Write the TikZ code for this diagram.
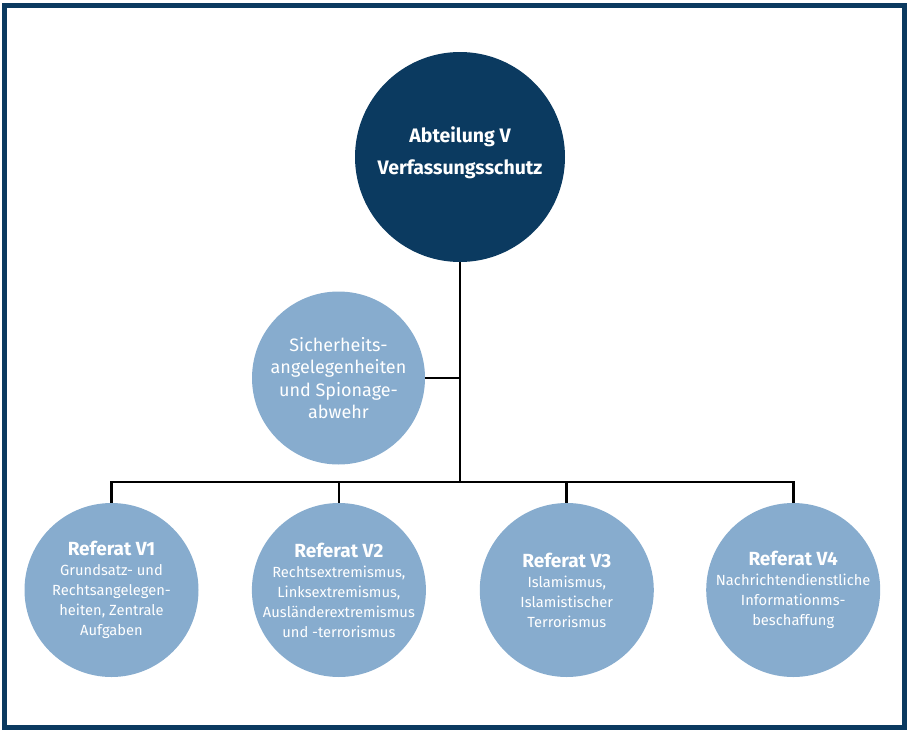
\documentclass[tikz,border=0pt]{standalone}
\usepackage{fontspec}
\setmainfont{Fira Sans}
\usetikzlibrary{positioning}

\definecolor{navy}{HTML}{0B3A60}
\definecolor{skyblue}{HTML}{87ACCE}

\tikzset{
	head/.style={circle, fill=navy, text=white, minimum size=210pt, inner sep=0pt, align=center,
		text depth=13pt, font=\fontsize{19.5}{22}\selectfont\bfseries},
	unit/.style={circle, fill=skyblue, text=white, minimum size=174pt, inner sep=-30pt, align=center,
		font=\fontsize{14.7}{20}\selectfont},
	staff/.style={circle, fill=skyblue, text=white, minimum size=173pt, inner sep=-30pt, align=center,
		font=\fontsize{18}{22.5}\selectfont},
	link/.style={draw=black, line width=2.7pt}
}
\newcommand{\reftitle}[1]{{\fontsize{19}{20}\selectfont\bfseries #1}}

\begin{document}
\begin{tikzpicture}[x=1pt,y=-1pt]
	
	\useasboundingbox (0,0) rectangle (908,731);
	\draw[navy, line width=5pt] (4.5,5.5) rectangle (904.5,727);
	
	\node[head]  (abt)  at (460,157) {Abteilung V\\[10pt]Verfassungsschutz};
	\node[staff] (sich) at (338.5,378) {Sicherheits-\\angelegenheiten\\und Spionage-\\abwehr};
	
	\node[unit] (v1) at (111.5,590) {\reftitle{Referat V1}\\Grundsatz- und\\Rechtsangelegen-\\heiten, Zentrale\\Aufgaben};
	\node[unit] (v2) [right=53pt of v1] {\reftitle{Referat V2}\\Rechtsextremismus,\\Linksextremismus,\\Ausländerextremismus\\und -terrorismus};
	\node[unit] (v3) [right=53.5pt of v2] {\reftitle{Referat V3}\\Islamismus,\\Islamistischer\\Terrorismus};
	\node[unit] (v4) [right=52pt of v3] {\reftitle{Referat V4}\\Nachrichtendienstliche\\Informationms-\\beschaffung};
	
	\coordinate (bus) at (460,482);
	
	\path[link]
	(abt.south) -- (bus)
	(sich.east) -- (sich.east -| abt.south)
	(v1.north) |- (bus) -| (v4.north)
	(v2.north) -- (v2.north |- bus)
	(v3.north) -- (v3.north |- bus);
\end{tikzpicture}
\end{document}
